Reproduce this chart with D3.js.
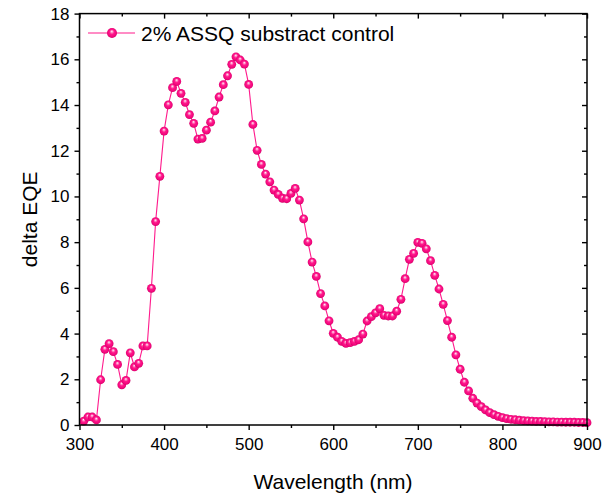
<!DOCTYPE html>
<html>
<head>
<meta charset="utf-8">
<script src="https://cdn.jsdelivr.net/npm/d3@7"></script>
<style>
  html, body { margin: 0; padding: 0; background: #fff; }
  svg { display: block; font-family: "Liberation Sans", Arial, sans-serif; }
</style>
</head>
<body>
<svg id="chart" width="608" height="500"></svg>
<script>
const wavelengths = [305,310,315,320,325,330,335,340,345,350,355,360,365,370,375,380,385,390,395,400,
  405,410,415,420,425,430,435,440,445,450,455,460,465,470,475,480,485,490,495,500,
  505,510,515,520,525,530,535,540,545,550,555,560,565,570,575,580,585,590,595,600,
  605,610,615,620,625,630,635,640,645,650,655,660,665,670,675,680,685,690,695,700,
  705,710,715,720,725,730,735,740,745,750,755,760,765,770,775,780,785,790,795,800,
  805,810,815,820,825,830,835,840,845,850,855,860,865,870,875,880,885,890,895,900];
const deltaEQE = [0.17,0.35,0.35,0.22,1.98,3.31,3.56,3.21,2.65,1.76,1.95,3.16,2.54,2.70,3.46,3.46,5.98,8.90,10.88,12.86,
  14.01,14.76,15.03,14.51,14.12,13.58,13.20,12.51,12.54,12.90,13.25,13.74,14.35,14.89,15.28,15.78,16.11,15.97,15.79,14.90,
  13.15,12.02,11.40,10.98,10.64,10.28,10.09,9.92,9.90,10.13,10.35,9.84,9.02,8.01,7.13,6.50,5.75,5.21,4.56,4.01,
  3.84,3.66,3.57,3.60,3.66,3.73,3.98,4.55,4.74,4.91,5.09,4.80,4.77,4.77,4.98,5.50,6.40,7.25,7.51,7.99,
  7.95,7.71,7.19,6.55,5.95,5.28,4.57,3.84,3.07,2.44,1.87,1.49,1.17,0.96,0.80,0.66,0.54,0.45,0.38,0.32,
  0.28,0.25,0.23,0.21,0.19,0.18,0.17,0.16,0.16,0.15,0.14,0.14,0.13,0.13,0.12,0.12,0.12,0.11,0.11,0.10];
const xTicks = [300,400,500,600,700,800,900];
const xMinorTicks = [350,450,550,650,750,850];
const yTicks = [0,2,4,6,8,10,12,14,16,18];
const yMinorTicks = [1,3,5,7,9,11,13,15,17];
const seriesName = "2% ASSQ substract control";
const xTitle = "Wavelength (nm)";
const yTitle = "delta EQE";

const svg = d3.select("#chart");
const pL = 79.5, pT = 13.6, pR = 587, pB = 425;
const x = d3.scaleLinear().domain([300, 900]).range([pL, pR]);
const y = d3.scaleLinear().domain([0, 18]).range([pB, pT]);

const defs = svg.append("defs");
const grad = defs.append("radialGradient").attr("id", "ball")
  .attr("cx", "50%").attr("cy", "50%").attr("r", "55%")
  .attr("fx", "48%").attr("fy", "32%");
grad.append("stop").attr("offset", "0").attr("stop-color", "#ffffff");
grad.append("stop").attr("offset", "0.14").attr("stop-color", "#ffa8d3");
grad.append("stop").attr("offset", "0.42").attr("stop-color", "#ff1a8c");
grad.append("stop").attr("offset", "0.8").attr("stop-color", "#f0047a");
grad.append("stop").attr("offset", "1").attr("stop-color", "#b80058");

const pink = "#ff1a8c";
const data = wavelengths.map((w, i) => ({w, v: deltaEQE[i]}));

// line
svg.append("path").datum(data)
  .attr("fill", "none").attr("stroke", pink).attr("stroke-width", 1.1)
  .attr("d", d3.line().x(d => x(d.w)).y(d => y(d.v)));

// markers
svg.append("g").selectAll("circle").data(data).join("circle")
  .attr("cx", d => x(d.w)).attr("cy", d => y(d.v)).attr("r", 4.4)
  .attr("fill", "url(#ball)");

// axes
function styleAxis(g) {
  g.select(".domain").remove();
  g.selectAll("line").attr("stroke", "#000").attr("stroke-width", 1.4);
  g.selectAll("text").attr("fill", "#000").style("font-size", "17px")
    .style("font-family", "'Liberation Sans', Arial, sans-serif");
}
svg.append("g").attr("transform", `translate(0,${pB})`)
  .call(d3.axisBottom(x).tickValues(xTicks).tickSize(5).tickPadding(8).tickFormat(d3.format("d")))
  .call(styleAxis);
svg.append("g").attr("transform", `translate(0,${pB})`)
  .call(d3.axisBottom(x).tickValues(xMinorTicks).tickSize(3).tickFormat(""))
  .call(styleAxis);
svg.append("g").attr("transform", `translate(${pL},0)`)
  .call(d3.axisLeft(y).tickValues(yTicks).tickSize(5).tickPadding(5).tickFormat(d3.format("d")))
  .call(styleAxis);
svg.append("g").attr("transform", `translate(${pL},0)`)
  .call(d3.axisLeft(y).tickValues(yMinorTicks).tickSize(3).tickFormat(""))
  .call(styleAxis);
// mirrored inward ticks
svg.append("g").attr("transform", `translate(0,${pT})`)
  .call(d3.axisTop(x).tickValues(xTicks).tickSize(-5).tickFormat(""))
  .call(styleAxis);
svg.append("g").attr("transform", `translate(0,${pT})`)
  .call(d3.axisTop(x).tickValues(xMinorTicks).tickSize(-3).tickFormat(""))
  .call(styleAxis);
svg.append("g").attr("transform", `translate(${pR},0)`)
  .call(d3.axisRight(y).tickValues(yTicks).tickSize(-5).tickFormat(""))
  .call(styleAxis);
svg.append("g").attr("transform", `translate(${pR},0)`)
  .call(d3.axisRight(y).tickValues(yMinorTicks).tickSize(-3).tickFormat(""))
  .call(styleAxis);

// frame
svg.append("rect").attr("x", pL).attr("y", pT)
  .attr("width", pR - pL).attr("height", pB - pT)
  .attr("fill", "none").attr("stroke", "#000").attr("stroke-width", 1.5);

// titles
svg.append("text").attr("x", 333).attr("y", 489)
  .attr("text-anchor", "middle").style("font-size", "21px").text(xTitle);
svg.append("text").attr("transform", `translate(37,${(pT + pB) / 2}) rotate(-90)`)
  .attr("text-anchor", "middle").style("font-size", "21px").text(yTitle);

// legend
const ly = 33;
svg.append("line").attr("x1", 88).attr("x2", 135).attr("y1", ly).attr("y2", ly)
  .attr("stroke", pink).attr("stroke-width", 1.1);
svg.append("circle").attr("cx", 112).attr("cy", ly).attr("r", 5).attr("fill", "url(#ball)");
svg.append("text").attr("x", 141).attr("y", ly + 7.5).style("font-size", "21px").text(seriesName);
</script>
</body>
</html>
